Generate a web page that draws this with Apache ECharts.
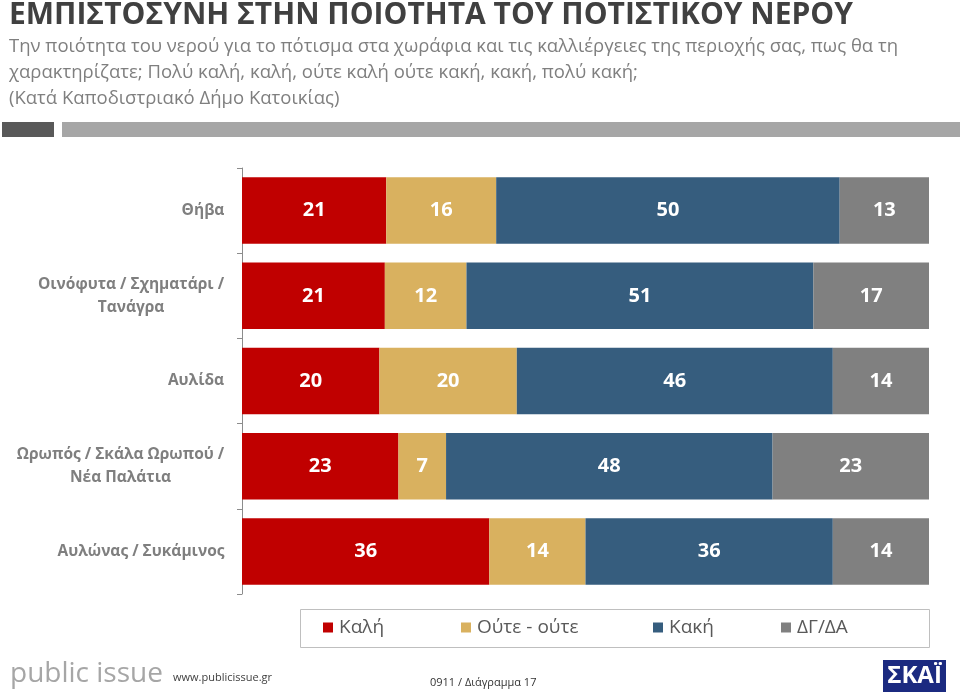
<!DOCTYPE html>
<html>
<head>
<meta charset="utf-8">
<script src="https://cdn.jsdelivr.net/npm/echarts@6/dist/echarts.min.js"></script>
<style>
html,body{margin:0;padding:0;background:#fff;}
#chart{width:960px;height:695px;}
</style>
</head>
<body>
<div id="chart"></div>
<script>
// ---- data ----
const categories = ['Θήβα', 'Οινόφυτα / Σχηματάρι /\nΤανάγρα', 'Αυλίδα', 'Ωρωπός / Σκάλα Ωρωπού /\nΝέα Παλάτια', 'Αυλώνας / Συκάμινος'];
const seriesNames = ['Καλή', 'Ούτε - ούτε', 'Κακή', 'ΔΓ/ΔΑ'];
const kali = [21, 21, 20, 23, 36];
const outeOute = [16, 12, 20, 7, 14];
const kaki = [50, 51, 46, 48, 36];
const dgda = [13, 17, 14, 23, 14];
const titleText = 'ΕΜΠΙΣΤΟΣΥΝΗ ΣΤΗΝ ΠΟΙΟΤΗΤΑ ΤΟΥ ΠΟΤΙΣΤΙΚΟΥ ΝΕΡΟΥ';
const subtitleLines = [
  'Την ποιότητα του νερού για το πότισμα στα χωράφια και τις καλλιέργειες της περιοχής σας, πως θα τη',
  'χαρακτηρίζατε; Πολύ καλή, καλή, ούτε καλή ούτε κακή, κακή, πολύ κακή;',
  '(Κατά Καποδιστριακό Δήμο Κατοικίας)'
];

// ---- styles ----
const FONT = '"Open Sans", "Noto Sans", "DejaVu Sans", sans-serif';
const colors = ['#C00000', '#D9B15F', '#365D7E', '#808080'];
const allSeries = [kali, outeOute, kaki, dgda];
const rowSums = categories.map((c, i) => allSeries.reduce((s, arr) => s + arr[i], 0));

// measure category label widths to centre multi-line labels
const cv = document.createElement('canvas').getContext('2d');
const catFontSize = 15.5;
cv.font = 'bold ' + catFontSize + 'px "Open Sans"';
const rich = {};
categories.forEach((c, i) => {
  const w = Math.max.apply(null, c.split('\n').map(l => cv.measureText(l).width));
  rich['c' + i] = {width: Math.ceil(w) + 1, align: 'center', fontFamily: FONT, fontSize: catFontSize,
    fontWeight: 'bold', color: '#7F7F7F', lineHeight: 23};
});

const chart = echarts.init(document.getElementById('chart'), null, {renderer: 'canvas'});

const series = allSeries.map((arr, s) => ({
  name: seriesNames[s],
  type: 'bar',
  stack: 'total',
  barWidth: '78%',
  itemStyle: {color: colors[s]},
  label: {
    show: true,
    position: 'inside',
    color: '#fff',
    fontFamily: FONT,
    fontWeight: 'bold',
    fontSize: 20,
    formatter: p => String(arr[p.dataIndex])
  },
  emphasis: {disabled: true},
  data: arr.map((v, i) => v / rowSums[i] * 100)
}));

const legendX = [323, 461, 653, 781];
const legends = seriesNames.map((n, i) => ({
  data: [n],
  left: legendX[i],
  top: 618,
  padding: 0,
  icon: 'rect',
  itemWidth: 10,
  itemHeight: 10,
  selectedMode: false,
  textStyle: {fontFamily: FONT, fontSize: 19, color: '#595959', padding: [0, 0, 0, 1]}
}));

chart.setOption({
  animation: false,
  color: colors,
  title: {
    left: 9,
    top: -3,
    padding: 0,
    itemGap: 1,
    text: titleText,
    textStyle: {fontFamily: FONT, fontSize: 30, fontWeight: 'bold', color: '#404040', lineHeight: 36},
    subtext: subtitleLines.join('\n'),
    subtextStyle: {fontFamily: FONT, fontSize: 18.5, color: '#7F7F7F', lineHeight: 26}
  },
  legend: legends,
  grid: {left: 242, right: 31, top: 168, height: 426, containLabel: false},
  xAxis: {type: 'value', min: 0, max: 100, show: false},
  yAxis: {
    type: 'category',
    inverse: true,
    data: categories,
    axisLine: {show: true, lineStyle: {color: '#8C8C8C', width: 1}},
    axisTick: {show: true, length: 5, lineStyle: {color: '#8C8C8C'}},
    axisLabel: {
      margin: 17,
      formatter: (v, idx) => v.split('\n').map(l => '{c' + idx + '|' + l + '}').join('\n'),
      rich: rich
    }
  },
  series: series,
  graphic: [
    {type: 'rect', shape: {x: 2, y: 122, width: 52, height: 15}, style: {fill: '#595959'}},
    {type: 'rect', shape: {x: 62, y: 122, width: 898, height: 15}, style: {fill: '#A6A6A6'}},
    {type: 'rect', shape: {x: 300.5, y: 609.5, width: 629, height: 38}, style: {fill: 'none', stroke: '#BFBFBF', lineWidth: 1}},
    {type: 'text', left: 10, top: 660, style: {text: 'public issue', fontFamily: FONT, fontSize: 28, fill: '#A6A6A6'}},
    {type: 'text', left: 173, top: 672, style: {text: 'www.publicissue.gr', fontFamily: FONT, fontSize: 11, fill: '#404040'}},
    {type: 'text', left: 430, top: 677, style: {text: '0911 / Διάγραμμα 17', fontFamily: FONT, fontSize: 11, fill: '#333333'}},
    {type: 'rect', shape: {x: 883, y: 660, width: 63, height: 32}, style: {fill: '#1B2A80'}},
    {type: 'text', x: 914.5, y: 676, style: {text: 'ΣΚΑΪ', fontFamily: FONT, fontSize: 24, fontWeight: 'bold', fill: '#fff', align: 'center', verticalAlign: 'middle'}}
  ]
});
</script>
</body>
</html>
